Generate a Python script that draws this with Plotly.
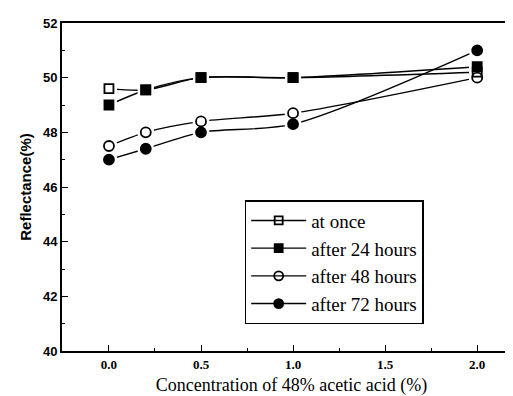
import plotly.graph_objects as go

conc = [0.0, 0.2, 0.5, 1.0, 2.0]
at_once = [49.6, 49.55, 50.0, 50.0, 50.2]
after_24 = [49.0, 49.55, 50.0, 50.0, 50.4]
after_48 = [47.5, 48.0, 48.4, 48.7, 50.0]
after_72 = [47.0, 47.4, 48.0, 48.3, 51.0]

series = [
    ("at once", at_once, "square-open", 9),
    ("after 24 hours", after_24, "square", 9),
    ("after 48 hours", after_48, "circle-open", 10),
    ("after 72 hours", after_72, "circle", 10),
]

fig = go.Figure()
# lines
for name, ys, sym, sz in series:
    fig.add_trace(go.Scatter(x=conc, y=ys, mode="lines",
                             line=dict(color="black", width=1.4, shape="spline", smoothing=0.8),
                             showlegend=False, hoverinfo="skip"))
# white halos to create gaps around markers
for name, ys, sym, sz in series:
    fig.add_trace(go.Scatter(x=conc, y=ys, mode="markers",
                             marker=dict(symbol=sym.replace("-open", ""), size=sz + 7, color="white",
                                         line=dict(width=0)),
                             showlegend=False, hoverinfo="skip"))
# markers
for name, ys, sym, sz in series:
    fig.add_trace(go.Scatter(x=conc, y=ys, mode="markers", name=name,
                             marker=dict(symbol=sym, size=sz, color="black",
                                         line=dict(color="black", width=1.8)),
                             showlegend=False))
# legend entries
for i, (name, ys, sym, sz) in enumerate(series):
    fig.add_trace(go.Scatter(x=[None], y=[None], mode="lines+markers", name=name,
                             legendgroup="g%d" % i,
                             line=dict(color="black", width=1.4),
                             marker=dict(symbol=sym, size=sz - 1, color="black",
                                         line=dict(color="black", width=1.8))))

fig.update_layout(
    width=513, height=396,
    margin=dict(l=54, r=0, t=15, b=53),
    plot_bgcolor="white", paper_bgcolor="white",
    font=dict(family="Liberation Serif", color="black"),
    legend=dict(x=0.398, y=0.46, xanchor="left", yanchor="top",
                bordercolor="black", borderwidth=1.5, bgcolor="white",
                font=dict(family="Liberation Serif", size=19, color="black"),
                tracegroupgap=0, itemwidth=55),
    xaxis=dict(range=[-0.255, 2.238], tickvals=[0.0, 0.5, 1.0, 1.5, 2.0],
               ticktext=["0.0", "0.5", "1.0", "1.5", "2.0"],
               ticks="inside", ticklen=6, tickwidth=1.3, tickcolor="black",
               minor=dict(dtick=0.25, tick0=0, ticks="inside", ticklen=3, tickwidth=1, tickcolor="black"),
               showline=True, linecolor="black", linewidth=2, mirror=True,
               showgrid=False, zeroline=False,
               tickfont=dict(family="Liberation Serif", size=13, color="black", weight="bold"),
               title=dict(text="Concentration of 48% acetic acid (%)",
                          font=dict(family="Liberation Serif", size=18, color="black"), standoff=8)),
    yaxis=dict(range=[40, 52], tickvals=[40, 42, 44, 46, 48, 50, 52],
               ticks="inside", ticklen=6, tickwidth=1.3, tickcolor="black",
               minor=dict(dtick=1, ticks="inside", ticklen=3, tickwidth=1, tickcolor="black"),
               showline=True, linecolor="black", linewidth=2,
               showgrid=False, zeroline=False,
               tickfont=dict(family="Liberation Sans Narrow, Liberation Sans", size=13, color="black", weight="bold"),
               title=dict(text="Reflectance(%)",
                          font=dict(family="Liberation Sans", size=15, color="black", weight="bold"), standoff=8)),
)

fig.write_html("out.html")
